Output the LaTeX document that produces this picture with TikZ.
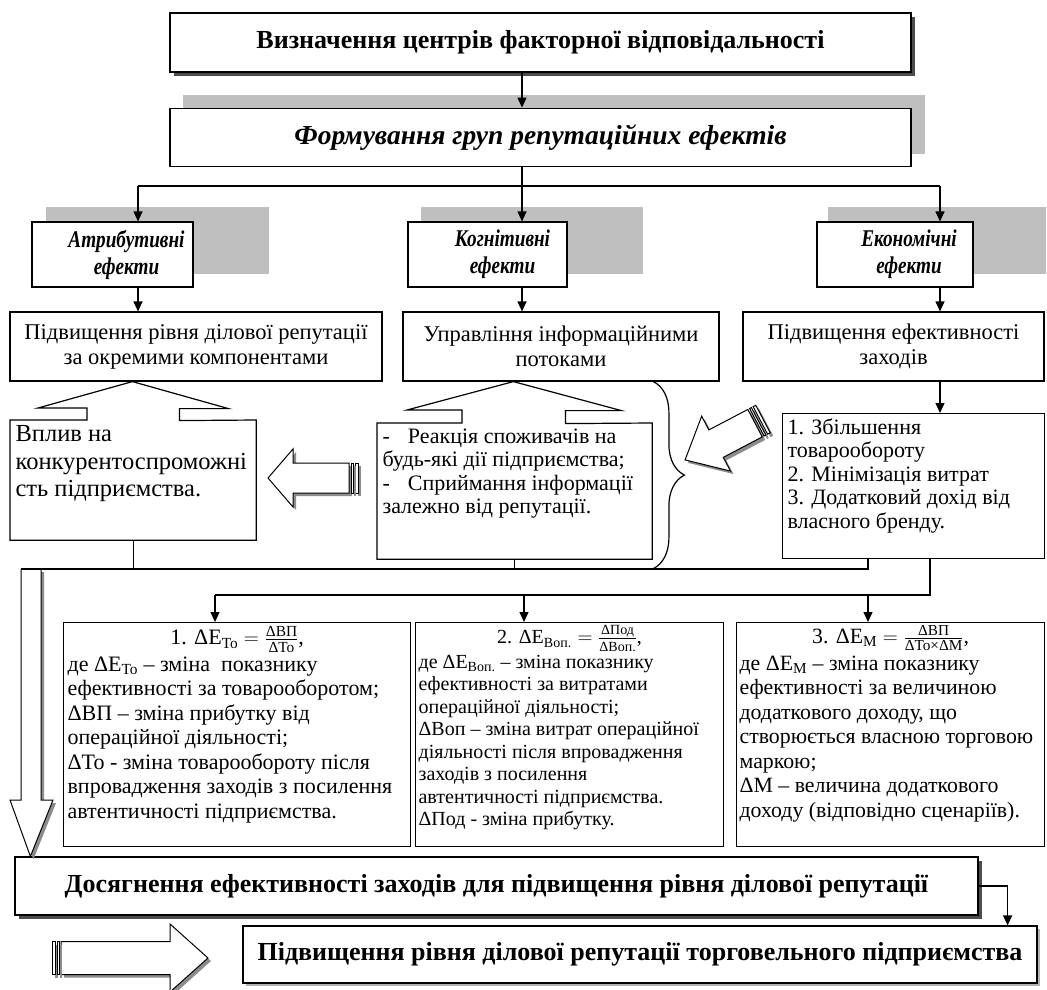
\documentclass[tikz,border=0pt]{standalone}
\usepackage{amsmath}
\usepackage{fontspec}
\setmainfont{Liberation Serif}
\newfontfamily\condserif[FakeStretch=0.8]{Liberation Serif}
\usetikzlibrary{positioning, arrows.meta, shadows, backgrounds, decorations.pathreplacing, calc}

\begin{document}
\begin{tikzpicture}[x=1pt, y=-1pt]
	\tikzset{
		>={Stealth[length=10pt, width=9pt, inset=0pt]},
		every node/.style={font=\fontsize{22}{24.5}\selectfont},
		line/.style={line width=1.2pt},
		box/.style={draw, fill=white, line width=1.2pt, inner sep=0pt, align=center},
		titlebox/.style={box, font=\fontsize{26}{30}\selectfont\bfseries},
		effectbox/.style={box, minimum height=65pt, font=\condserif\fontsize{24}{27}\selectfont\bfseries\itshape},
		midbox/.style={box, minimum height=69pt, font=\fontsize{22.5}{25}\selectfont},
		panel/.style={draw, fill=white, line width=1.2pt, inner sep=5pt, anchor=north west},
		darkshadow/.style={drop shadow={shadow xshift=4pt, shadow yshift=-4pt, fill=black!70, opacity=1}},
		lightshadow/.style={fill=black!25},
		hollow/.style={draw, fill=white, line width=1pt, drop shadow={shadow xshift=3pt, shadow yshift=-3pt, fill=black!45, opacity=1}},
		pics/striped arrow/.style n args={4}{code={
			\draw[hollow] (9,-#4) -- (#1-#2,-#4) -- (#1-#2,-#3) -- (#1,0) -- (#1-#2,#3) -- (#1-#2,#4) -- (9,#4) -- cycle;
			\draw[hollow] (0,-#4) rectangle (3,#4);
			\draw[hollow] (5,-#4) rectangle (7,#4);
		}}
	}
	\useasboundingbox (0,0) rectangle (1047,990);

	% Top of the scheme
	\node[titlebox, minimum width=741pt, minimum height=59pt, darkshadow] (centres) at (540.5,42.5) {Визначення центрів факторної відповідальності};
	\node[titlebox, font=\fontsize{27.5}{32}\selectfont\bfseries\itshape, minimum width=741pt, minimum height=58pt, below=35pt of centres] (groups) {Формування груп репутаційних ефектів};

	% Groups of effects
	\node[effectbox, minimum width=161pt] (attr) at (112.5,254.5) {\hspace*{28pt}\parbox{125pt}{\centering Атрибутивні\\ ефекти}};
	\node[effectbox, minimum width=159pt] (cogn) at (487.5,254.5) {\hspace*{30pt}\parbox{115pt}{\centering Когнітивні\\ ефекти}};
	\node[effectbox, minimum width=156pt] (econ) at (895,254.5) {\hspace*{28pt}\parbox{118pt}{\centering Економічні\\ ефекти}};

	% Aims
	\node[midbox, minimum width=372pt] (incr) at (196,346.5) {Підвищення рівня ділової репутації\\ за окремими компонентами};
	\node[midbox, minimum width=316pt] (info) at (561,346.5) {Управління інформаційними\\ потоками};
	\node[midbox, minimum width=301pt] (effm) at (893.5,346.5) {Підвищення ефективності\\ заходів};

	% Contents
	\node[panel, draw=none, font=\fontsize{24.5}{27.5}\selectfont] (vplyv) at (10,420) {\parbox[t][109pt][t]{235pt}{\raggedright Вплив на\\ конкурентоспроможні\\ сть підприємства.}};
	\node[panel, draw=none, font=\fontsize{22}{23.5}\selectfont] (react) at (377,423) {\parbox[t][125pt][t]{264pt}{\raggedright -\hspace{18pt}Реакція споживачів на\\ будь-які дії підприємства;\\ -\hspace{18pt}Сприймання інформації\\ залежно від репутації.}};
	\node[panel, font=\fontsize{22}{23.5}\selectfont] (list) at (782,413) {\parbox[t][135pt][t]{252pt}{\raggedright 1. Збільшення\\ товарообороту\\ 2. Мінімізація витрат\\ 3. Додатковий дохід від\\ власного бренду.}};

	% Indicators
	\node[panel, inner sep=4pt] (f1) at (63,622) {\parbox[t][216pt][t]{339pt}{\centering 1. ΔE$_{\text{То}}=\frac{\text{ΔВП}}{\text{ΔТо}}$,\par\vspace{2pt}\raggedright
		де ΔE$_{\text{То}}$ – зміна\ \ показнику\\
		ефективності за товарооборотом;\\
		ΔВП – зміна прибутку від\\
		операційної діяльності;\\
		ΔТо - зміна товарообороту після\\
		впровадження заходів з посилення\\
		автентичності підприємства.}};
	\node[panel, inner sep=3pt, font=\fontsize{20}{22.5}\selectfont] (f2) at (415,622) {\parbox[t][218pt][t]{302pt}{\centering 2. ΔE$_{\text{Воп.}}=\frac{\text{ΔПод}}{\text{ΔВоп.}}$,\par\vspace{2pt}\raggedright
		де ΔE$_{\text{Воп.}}$ – зміна показнику\\
		ефективності за витратами\\
		операційної діяльності;\\
		ΔВоп – зміна витрат операційної\\
		діяльності після впровадження\\
		заходів з посилення\\
		автентичності підприємства.\\
		ΔПод - зміна прибутку.}};
	\node[panel, inner sep=3pt, font=\fontsize{21.8}{24.5}\selectfont] (f3) at (736,622) {\parbox[t][218pt][t]{302pt}{\centering 3. ΔE$_{\text{М}}=\frac{\text{ΔВП}}{\text{ΔТо×ΔМ}}$,\par\vspace{2pt}\raggedright
		де ΔE$_{\text{М}}$ – зміна показнику\\
		ефективності за величиною\\
		додаткового доходу, що\\
		створюється власною торговою\\
		маркою;\\
		ΔМ – величина додаткового\\
		доходу (відповідно сценаріїв).}};

	% Results
	\node[titlebox, minimum width=963pt, minimum height=58pt, darkshadow] (achv) at (496.5,886) {Досягнення ефективності заходів для підвищення рівня ділової репутації};
	\node[titlebox, minimum width=794pt, minimum height=57pt, drop shadow={shadow xshift=3pt, shadow yshift=-3pt, fill=black!30, opacity=1}] (final) at (640,954.5) {Підвищення рівня ділової репутації торговельного підприємства};

	% Shadows of the group boxes
	\begin{scope}[on background layer]
		\fill[lightshadow] ($(groups.south west)+(14,-13)$) rectangle ($(groups.north east)+(13,-13)$);
		\fill[lightshadow] ($(attr.south west)+(15,-14)$) rectangle ($(attr.north east)+(75,-14)$);
		\fill[lightshadow] ($(cogn.south west)+(14,-14)$) rectangle ($(cogn.north east)+(75,-14)$);
		\fill[lightshadow] ($(econ.south west)+(12,-14)$) rectangle ($(econ.north east)+(72,-14)$);
	\end{scope}

	% Callouts and brace
	\draw[line] (vplyv.north west) -- ++(77,0) -- ++(0,-12) -- ++(-49,0) -- ($(incr.south west)+(123,0)$) -- ++(96,27) -- ++(-49,0) -- ++(0,12) -- (vplyv.north east) -- (vplyv.south east) -- (vplyv.south west) -- cycle;
	\draw[line] (react.north west) -- ++(85,0) -- ++(0,-13) -- ++(-55,0) -- ($(info.south west)+(111,0)$) -- ++(108,29) -- ++(-56,0) -- ++(0,13) -- (react.north east) -- (react.south east) -- (react.south west) -- cycle;
	\draw[line, decorate, decoration={brace, amplitude=31pt}] ($(info.south west)+(251,0)$) -- ($(info.south west)+(251,187)$);

	% Top connectors
	\coordinate (trunk) at (522,186);
	\coordinate (tA) at (138,186);
	\coordinate (tC) at (940,186);
	\draw[line, ->] (centres.south -| trunk) -- (groups.north -| trunk);
	\draw[line] (groups.south -| trunk) -- (trunk);
	\draw[line] (tA) -- (tC);
	\draw[line, ->] (tA) -- (attr.north -| tA);
	\draw[line, ->] (trunk) -- (cogn.north -| trunk);
	\draw[line, ->] (tC) -- (econ.north -| tC);
	\draw[line, ->] (attr.south -| tA) -- (incr.north -| tA);
	\draw[line, ->] (cogn.south -| trunk) -- (info.north -| trunk);
	\draw[line, ->] (econ.south -| tC) -- (effm.north -| tC);
	\draw[line, ->] (effm.south -| tC) -- (list.north -| tC);

	% Big arrow down to the result
	\coordinate (busL) at (21,569);
	\coordinate (busR) at (868,569);
	\draw[hollow] (busL) -- ++(0,231) -- ++(-11,0) -- ($(achv.north west)+(16,0)$) -- (53,800) -- (41,800) -- ($(busL)+(20,0)$);

	% Lower connectors
	\draw[line] (busL) -- (busR) -- (list.south -| busR);
	\draw[line] (vplyv.south) -- (vplyv.south |- busL);
	\draw[line] (react.south) -- (react.south |- busL);
	\coordinate (busB) at (930,595);
	\coordinate (d1) at (215,595);
	\coordinate (d2) at (524,595);
	\coordinate (d3) at (868,595);
	\draw[line] (list.south -| busB) -- (busB) -- (d1);
	\draw[line, ->] (d1) -- (f1.north -| d1);
	\draw[line, ->] (d2) -- (f2.north -| d2);
	\draw[line, ->] (d3) -- (f3.north -| d3);
	\draw[line, ->] (achv.east) -| ($(final.north east)+(-30,0)$);

	% Block arrows
	\pic[rotate=180] at (358,478) {striped arrow={90}{25}{29}{15}};
	\pic[rotate=207.7] at (763,419) {striped arrow={88}{35}{31}{15.5}};
	\pic at (52,958) {striped arrow={156}{38}{34}{16.5}};
\end{tikzpicture}
\end{document}
